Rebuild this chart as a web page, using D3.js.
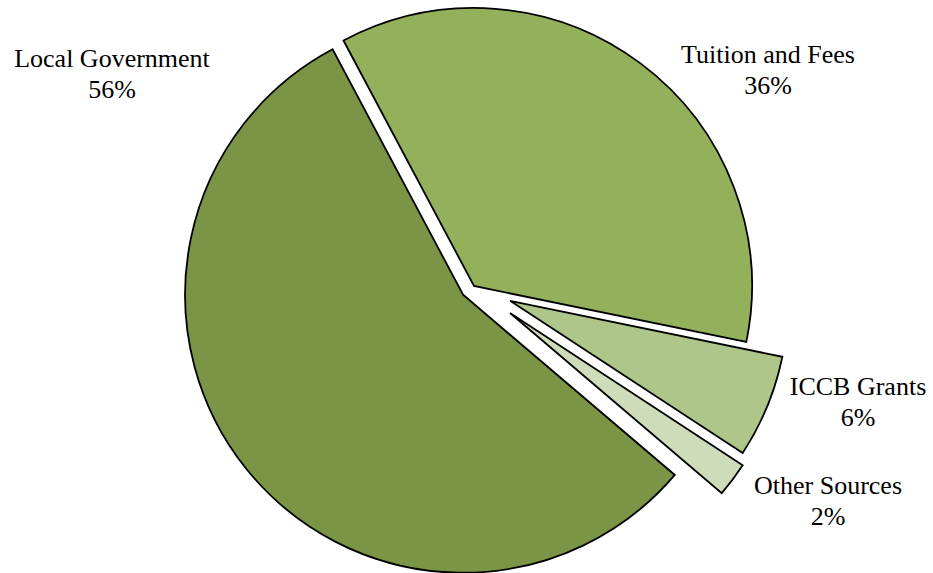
<!DOCTYPE html>
<html>
<head>
<meta charset="utf-8">
<script src="https://cdn.jsdelivr.net/npm/d3@7"></script>
<style>
  html, body { margin: 0; padding: 0; background: #ffffff; }
  svg { display: block; }
</style>
</head>
<body>
<svg id="chart" width="933" height="573"></svg>
<script>
// Revenue sources (percent of total)
const categories = ["Local Government", "Tuition and Fees", "ICCB Grants", "Other Sources"];
const shares = [56, 36, 6, 2];
const fills = ["#7b9445", "#93b05a", "#aec689", "#cfdcba"];

// Layout
const width = 933, height = 573;
const cx = 474, cy = 286, radius = 278;
const startDeg = 130.4;
const explode = [14, 0, 39, 45];          // pull-out distance of each slice
const labelPos = [                         // label anchor (centre x, first baseline)
  [112, 67], [768, 63], [858, 395], [828, 494]
];
const lineGap = 31;

const svg = d3.select("#chart");
const g = svg.append("g").attr("transform", `translate(${cx},${cy})`);

const pie = d3.pie()
  .sort(null)
  .value(d => d.value)
  .startAngle(startDeg * Math.PI / 180)
  .endAngle((startDeg + 360) * Math.PI / 180);

const arc = d3.arc().innerRadius(0).outerRadius(radius);

const rows = categories.map((c, i) => ({ name: c, value: shares[i], i }));
const arcs = pie(rows);

g.selectAll("path.slice")
  .data(arcs)
  .join("path")
  .attr("class", "slice")
  .attr("transform", d => {
    const mid = (d.startAngle + d.endAngle) / 2;
    const e = explode[d.data.i];
    return `translate(${e * Math.sin(mid)},${-e * Math.cos(mid)})`;
  })
  .attr("d", arc)
  .attr("fill", d => fills[d.data.i])
  .attr("stroke", "#000")
  .attr("stroke-width", 1.8)
  .attr("stroke-linejoin", "miter");

const labels = svg.selectAll("text.lbl")
  .data(arcs)
  .join("text")
  .attr("class", "lbl")
  .attr("text-anchor", "middle")
  .attr("font-family", "'Liberation Serif', 'Times New Roman', serif")
  .attr("font-size", 26)
  .attr("fill", "#000");

labels.append("tspan")
  .attr("x", d => labelPos[d.data.i][0])
  .attr("y", d => labelPos[d.data.i][1])
  .text(d => d.data.name);

labels.append("tspan")
  .attr("x", d => labelPos[d.data.i][0])
  .attr("y", d => labelPos[d.data.i][1] + lineGap)
  .text(d => d.data.value + "%");
</script>
</body>
</html>
